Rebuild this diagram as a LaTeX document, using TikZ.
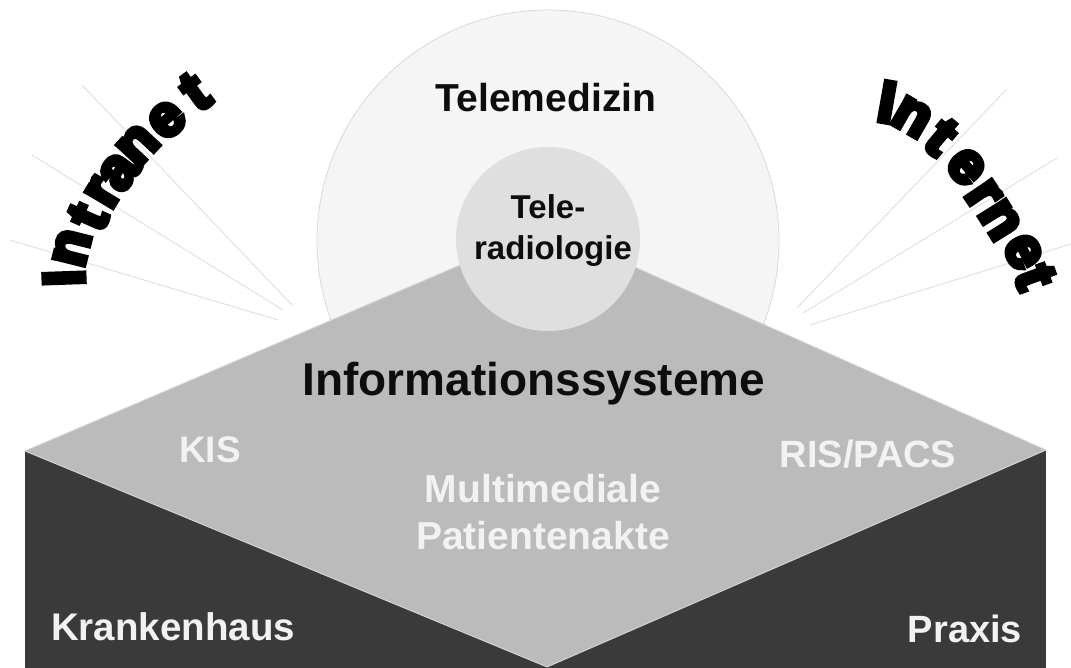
\documentclass[tikz,border=0pt]{standalone}
\usepackage{fontspec}
\setmainfont{Liberation Sans}
\newfontfamily\heavy{Liberation Sans Bold}[FakeBold=9]
\newcommand\fsz[1]{\fontsize{#1}{#1}\selectfont\bfseries}
\definecolor{bigfill}{HTML}{F5F5F5}
\definecolor{bigline}{HTML}{D9D9D9}
\definecolor{smallfill}{HTML}{DFDFDF}
\definecolor{diamfill}{HTML}{BBBBBB}
\definecolor{diamline}{HTML}{D6D6D6}
\definecolor{darkfill}{HTML}{3A3A3A}
\definecolor{rayc}{HTML}{E2E2E2}
\definecolor{blacktxt}{HTML}{0D0D0D}
\definecolor{whitetxt}{HTML}{F2F2F2}
\begin{document}
\begin{tikzpicture}[x=1pt,y=1pt,
  ray/.style={draw=rayc, line width=1pt},
  dark/.style={text=blacktxt, inner sep=0, anchor=base},
  light/.style={text=whitetxt, inner sep=0, anchor=base},
  arch/.style={font=\heavy\fontsize{58}{58}\selectfont, text=black, inner sep=0, anchor=center}]
\useasboundingbox (0,0) rectangle (1071,668);
\fill[white] (0,0) rectangle (1071,668);
% rays left
\coordinate (L1a) at (82,583);  \coordinate (L1b) at (292,363);
\coordinate (L2a) at (32,513);  \coordinate (L2b) at (283,358);
\coordinate (L3a) at (10,428);  \coordinate (L3b) at (278,348);
\draw[ray] (L1a) -- (L1b);
\draw[ray] (L2a) -- (L2b);
\draw[ray] (L3a) -- (L3b);
% rays right
\coordinate (R1a) at (1007,579); \coordinate (R1b) at (797,360);
\coordinate (R2a) at (1057,510); \coordinate (R2b) at (803,355);
\coordinate (R3a) at (1071,424); \coordinate (R3b) at (810,343);
\draw[ray] (R1a) -- (R1b);
\draw[ray] (R2a) -- (R2b);
\draw[ray] (R3a) -- (R3b);
% big circle
\node[circle, minimum size=462pt, inner sep=0, fill=bigfill, draw=bigline, line width=0.8pt] (tele) at (548,427) {};
% dark box
\fill[darkfill] (25,0) rectangle (1046,218);
% diamond
\filldraw[fill=diamfill, draw=diamline, line width=0.9pt] (25,217) -- (547,440) -- (1046,218) -- (547,1) -- cycle;
% small circle
\node[circle, minimum size=184pt, inner sep=0, fill=smallfill] (radio) at (548,429) {};
% texts
\node[dark, font=\fsz{39}] (telemed) at (546,556) {Telemedizin};
\node[dark, font=\fsz{33}] (teleA) at (548,449) {Tele-};
\node[dark, font=\fsz{33}] (teleB) at (553,408) {radiologie};
\node[dark, font=\fsz{46}] (info) at (534,272) {Informationssysteme};
\node[light, font=\fsz{37}] (kis) at (210,205) {KIS};
\node[light, font=\fsz{38}] (ris) at (868,200) {RIS/PACS};
\node[light, font=\fsz{39}] (mmA) at (543,165) {Multimediale};
\node[light, font=\fsz{39}] (mmB) at (543,118) {Patientenakte};
\node[light, font=\fsz{38.5}] (kh) at (173,27) {Krankenhaus};
\node[light, font=\fsz{38}] (px) at (965,25) {Praxis};
% Intranet
\foreach \ch/\x/\y/\r [count=\i] in {I/64/390/92, n/72/420/76, t/88/451/66, r/103/475/59, a/119/496/54, n/138/523/47, e/167/548/41, t/195/576/36}
  \node[arch, rotate=\r] (intra\i) at (\x,\y) {\ch};
% Internet
\foreach \ch/\x/\y/\r [count=\i] in {I/887/566/-10, n/912/551/-30, t/941/531/-40, e/966/501/-50, r/983/473/-56, n/1000/448/-58, e/1023/416/-63, t/1035/391/-70}
  \node[arch, rotate=\r] (inter\i) at (\x,\y) {\ch};
\end{tikzpicture}
\end{document}
